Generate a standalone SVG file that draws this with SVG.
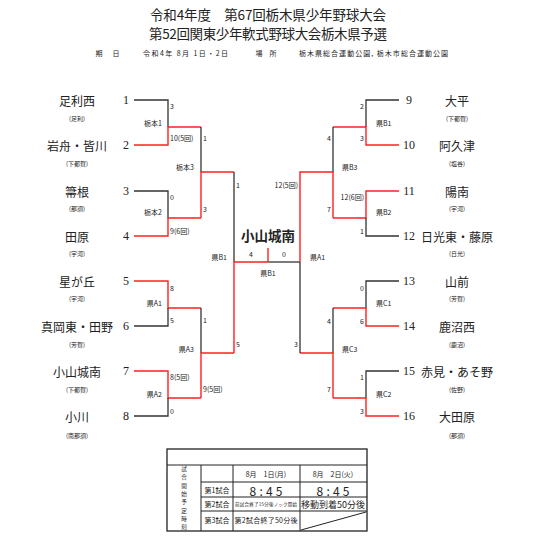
<svg xmlns="http://www.w3.org/2000/svg" width="535" height="540" viewBox="0 0 535 540">
<style>
text { font-family: "Noto Sans CJK JP", "Noto Sans", sans-serif; fill: #222; dominant-baseline: central; }
.name { font-size: 12px; text-anchor: middle; }
.sub { font-size: 6px; text-anchor: middle; }
.num { font-family: "Liberation Serif", serif; font-size: 12px; text-anchor: middle; }
.sc { font-size: 7px; }
.e { text-anchor: end; }
.m { text-anchor: middle; }
.v { font-size: 5.6px; text-anchor: middle; }
.k { stroke: #333; stroke-width: 1.3; fill: none; }
.r { stroke: #ff2020; stroke-width: 1.4; fill: none; }
.tb { stroke: #222; stroke-width: 1; fill: none; }
</style>
<rect width="535" height="540" fill="#fff"/>

<g id="header">
<text x="268" y="14" class="m" style="font-size:13.5px" textLength="236">令和4年度　第67回栃木県少年野球大会</text>
<text x="268" y="33" class="m" style="font-size:13.5px" textLength="238">第52回関東少年軟式野球大会栃木県予選</text>
<text x="99" y="53" class="m" style="font-size:7px">期</text>
<text x="116" y="53" class="m" style="font-size:7px">日</text>
<text x="143" y="53" style="font-size:7px" textLength="85">令和4年 8月 1日・2日</text>
<text x="259" y="53" class="m" style="font-size:7px">場</text>
<text x="273" y="53" class="m" style="font-size:7px">所</text>
<text x="299" y="53" style="font-size:7px" textLength="149">栃木県総合運動公園, 栃木市総合運動公園</text>
</g>

<g id="connectors">
<!-- left top -->
<path class="k" d="M134,100 H168 V127"/>
<path class="r" d="M134,145 H168 V127 H201"/>
<path class="k" d="M134,191 H168 V218"/>
<path class="r" d="M134,236 H168 V218 H201"/>
<path class="k" d="M201,127 V172"/>
<path class="r" d="M201,218 V172 H234"/>
<path class="k" d="M234,172 V262"/>
<!-- left bottom -->
<path class="r" d="M134,281 H168 V308 H201"/>
<path class="k" d="M134,326 H168 V308"/>
<path class="r" d="M134,371 H168 V398 H201"/>
<path class="k" d="M134,416 H168 V398"/>
<path class="k" d="M201,308 V353"/>
<path class="r" d="M201,398 V353 H234"/>
<path class="r" d="M234,353 V262 H268"/>
<!-- final -->
<path class="k" d="M268,262 H300"/>
<path class="r" d="M268,248 V262"/>
<!-- right top -->
<path class="k" d="M399,100 H366 V127"/>
<path class="r" d="M399,145 H366 V127 H333"/>
<path class="r" d="M399,191 H366 V218 H333"/>
<path class="k" d="M399,236 H366 V218"/>
<path class="k" d="M333,127 V172"/>
<path class="r" d="M333,218 V172 H300 V262"/>
<!-- right bottom -->
<path class="k" d="M399,281 H366 V308"/>
<path class="r" d="M399,326 H366 V308 H333"/>
<path class="k" d="M399,371 H366 V398"/>
<path class="r" d="M399,416 H366 V398 H333"/>
<path class="k" d="M333,308 V353"/>
<path class="r" d="M333,398 V353 H300"/>
<path class="k" d="M300,262 V353"/>
</g>

<g id="labels">
<text class="sc" x="170" y="106">3</text>
<text class="sc" x="170" y="138">10(5回)</text>
<text class="sc" x="170" y="197">0</text>
<text class="sc" x="170" y="231">9(6回)</text>
<text class="sc" x="170" y="288">8</text>
<text class="sc" x="170" y="320">5</text>
<text class="sc" x="170" y="377">8(5回)</text>
<text class="sc" x="170" y="411">0</text>
<text class="sc e" x="162" y="123">栃本1</text>
<text class="sc e" x="162" y="212">栃本2</text>
<text class="sc e" x="162" y="303">県A1</text>
<text class="sc e" x="162" y="394">県A2</text>
<text class="sc" x="203" y="138">1</text>
<text class="sc" x="203" y="209">3</text>
<text class="sc" x="203" y="320">1</text>
<text class="sc" x="203" y="389">9(5回)</text>
<text class="sc e" x="194" y="167">栃本3</text>
<text class="sc e" x="194" y="349">県A3</text>
<text class="sc" x="236" y="185">1</text>
<text class="sc" x="236" y="344">5</text>
<text class="sc e" x="227" y="257">県B1</text>
<text class="sc m" x="251" y="254">4</text>
<text class="sc m" x="284" y="254">0</text>
<text class="sc m" x="268" y="273">県B1</text>
<text class="sc" x="310" y="257">県A1</text>

<text class="sc e" x="364" y="106">2</text>
<text class="sc e" x="364" y="138">3</text>
<text class="sc e" x="364" y="197">12(6回)</text>
<text class="sc e" x="364" y="231">1</text>
<text class="sc e" x="364" y="288">0</text>
<text class="sc e" x="364" y="321">6</text>
<text class="sc e" x="364" y="377">1</text>
<text class="sc e" x="364" y="411">3</text>
<text class="sc" x="376" y="123">県B1</text>
<text class="sc" x="376" y="212">県B2</text>
<text class="sc" x="376" y="303">県C1</text>
<text class="sc" x="376" y="394">県C2</text>
<text class="sc e" x="331" y="138">4</text>
<text class="sc e" x="331" y="209">7</text>
<text class="sc e" x="331" y="321">4</text>
<text class="sc e" x="331" y="389">7</text>
<text class="sc" x="342" y="167">県B3</text>
<text class="sc" x="342" y="349">県C3</text>
<text class="sc e" x="298" y="185">12(5回)</text>
<text class="sc e" x="298" y="344">3</text>
</g>

<g id="champion">
<text x="268" y="235" class="m" style="font-size:13.5px;font-weight:bold">小山城南</text>
</g>

<g id="team1"><text class="name" x="77" y="100">足利西</text><text class="sub" x="77" y="118">(足利)</text><text class="num" x="126" y="100">1</text></g>
<g id="team2"><text class="name" x="77" y="145">岩舟・皆川</text><text class="sub" x="77" y="163">(下都賀)</text><text class="num" x="126" y="145">2</text></g>
<g id="team3"><text class="name" x="77" y="191">箒根</text><text class="sub" x="77" y="208">(那須)</text><text class="num" x="126" y="191">3</text></g>
<g id="team4"><text class="name" x="77" y="236">田原</text><text class="sub" x="77" y="253">(宇河)</text><text class="num" x="126" y="236">4</text></g>
<g id="team5"><text class="name" x="77" y="281">星が丘</text><text class="sub" x="77" y="298">(宇河)</text><text class="num" x="126" y="281">5</text></g>
<g id="team6"><text class="name" x="77" y="326">真岡東・田野</text><text class="sub" x="77" y="344">(芳賀)</text><text class="num" x="126" y="326">6</text></g>
<g id="team7"><text class="name" x="77" y="371">小山城南</text><text class="sub" x="77" y="389">(下都賀)</text><text class="num" x="126" y="371">7</text></g>
<g id="team8"><text class="name" x="77" y="416">小川</text><text class="sub" x="77" y="435">(南那須)</text><text class="num" x="126" y="416">8</text></g>

<g id="team9"><text class="name" x="457" y="100">大平</text><text class="sub" x="457" y="118">(下都賀)</text><text class="num" x="409" y="100">9</text></g>
<g id="team10"><text class="name" x="457" y="145">阿久津</text><text class="sub" x="457" y="163">(塩谷)</text><text class="num" x="409" y="145">10</text></g>
<g id="team11"><text class="name" x="457" y="191">陽南</text><text class="sub" x="457" y="208">(宇河)</text><text class="num" x="409" y="191">11</text></g>
<g id="team12"><text class="name" x="457" y="236">日光東・藤原</text><text class="sub" x="457" y="253">(日光)</text><text class="num" x="409" y="236">12</text></g>
<g id="team13"><text class="name" x="457" y="281">山前</text><text class="sub" x="457" y="298">(芳賀)</text><text class="num" x="409" y="281">13</text></g>
<g id="team14"><text class="name" x="457" y="326">鹿沼西</text><text class="sub" x="457" y="344">(鹿沼)</text><text class="num" x="409" y="326">14</text></g>
<g id="team15"><text class="name" x="457" y="371">赤見・あそ野</text><text class="sub" x="457" y="389">(佐野)</text><text class="num" x="409" y="371">15</text></g>
<g id="team16"><text class="name" x="457" y="416">大田原</text><text class="sub" x="457" y="435">(那須)</text><text class="num" x="409" y="416">16</text></g>

<g id="schedule">
<rect class="tb" x="167" y="449" width="200" height="82" style="stroke-width:1.3"/>
<path class="tb" d="M167,465 H367 M201,482 H367 M201,497 H367 M201,511 H367 M201,465 V531 M233,465 V531 M300,465 V531 M301,530 L366,512"/>
<text x="184" y="469" class="v">試</text>
<text x="184" y="477.3" class="v">合</text>
<text x="184" y="485.6" class="v">開</text>
<text x="184" y="493.9" class="v">始</text>
<text x="184" y="502.2" class="v">予</text>
<text x="184" y="510.5" class="v">定</text>
<text x="184" y="518.8" class="v">時</text>
<text x="184" y="527.1" class="v">刻</text>
<text x="266" y="474" class="m" style="font-size:7px">8月　1日(月)</text>
<text x="333" y="474" class="m" style="font-size:7px">8月　2日(火)</text>
<text x="217" y="490" class="m" style="font-size:7px">第1試合</text>
<text x="217" y="504" class="m" style="font-size:7px">第2試合</text>
<text x="217" y="520" class="m" style="font-size:7px">第3試合</text>
<text x="266" y="490" class="m" style="font-size:12px" textLength="33">8:45</text>
<text x="333" y="490" class="m" style="font-size:12px" textLength="33">8:45</text>
<text x="266" y="504" class="m" style="font-size:4.5px" textLength="62">前試合終了15分後ノック開始</text>
<text x="333" y="504" class="m" style="font-size:9px" textLength="64">移動到着50分後</text>
<text x="266" y="520" class="m" style="font-size:7px" textLength="63">第2試合終了50分後</text>
</g>
</svg>
